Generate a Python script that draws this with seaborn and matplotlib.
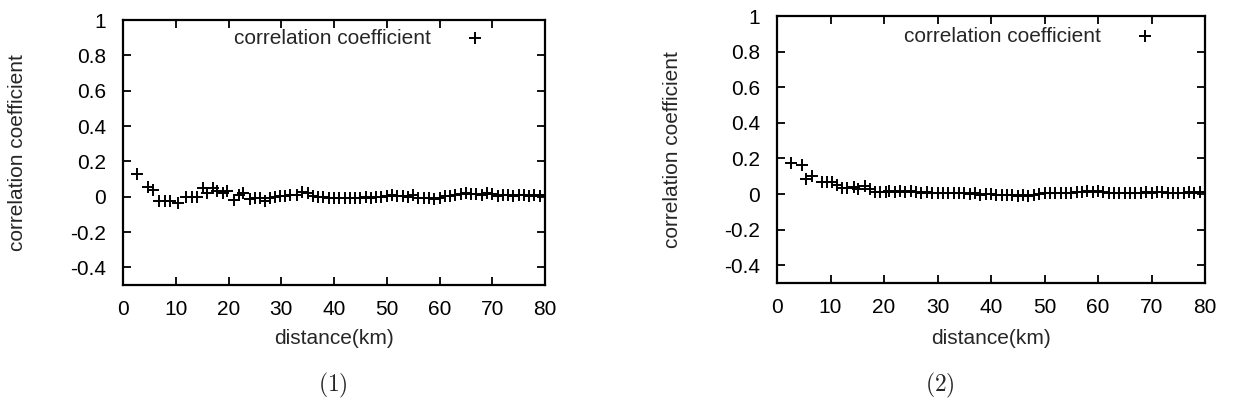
import matplotlib
matplotlib.use("Agg")
import matplotlib.pyplot as plt
import seaborn as sns
import pandas as pd

# ---- data ----
left_x = [2.7, 4.8, 5.6, 6.9, 8.0, 9.0, 10.5, 11.9, 13.0, 14.0, 15.1, 16.0, 17.1, 17.9,
          18.9, 19.7, 21.0, 21.9, 22.8, 24.1, 25.0, 26.0, 26.9, 27.9, 28.8, 29.8, 30.8,
          31.7, 33.0, 34.0, 35.0, 36, 37, 38, 39, 40, 41, 42, 43, 44, 45, 46, 47, 48, 49,
          50, 51, 52, 53, 54, 55, 56, 57, 58, 59, 60, 61, 62, 63, 64, 65, 66, 67, 68, 69,
          70, 71, 72, 73, 74, 75, 76, 77, 78, 79, 80]
left_y = [0.13, 0.055, 0.04, -0.027, -0.027, -0.027, -0.036, 0.0, 0.0, 0.0, 0.05, 0.02,
          0.05, 0.03, 0.02, 0.03, -0.017, 0.01, 0.02, -0.013, -0.005, -0.01, -0.027, -0.01,
          0.0, 0.005, 0.005, 0.01, 0.01, 0.025, 0.02, 0.005, 0.0, 0.0, -0.01, -0.005,
          -0.005, -0.005, -0.008, -0.005, -0.005, -0.003, -0.005, -0.003, 0.0, 0.003,
          0.008, 0.005, 0.003, 0.0, 0.01, -0.01, -0.01, -0.008, -0.012, -0.01, 0.005,
          0.005, 0.01, 0.015, 0.02, 0.015, 0.015, 0.01, 0.02, 0.015, 0.005, 0.01, 0.01,
          0.005, 0.008, 0.008, 0.005, 0.008, 0.005, 0.008]

right_x = [2.6, 4.6, 5.5, 6.5, 8.4, 9.3, 10.2, 11.2, 12.1, 13.1, 14.3, 15.2, 16.4, 17.3,
           18.3, 19.3, 20.3, 21, 22, 23, 24, 25, 26, 27, 28, 29, 30, 31, 32, 33, 34, 35,
           36, 37, 38, 39, 40, 41, 42, 43, 44, 45, 46, 47, 48, 49, 50, 51, 52, 53, 54, 55,
           56, 57, 58, 59, 60, 61, 62, 63, 64, 65, 66, 67, 68, 69, 70, 71, 72, 73, 74, 75,
           76, 77, 78, 79, 80]
right_y = [0.175, 0.165, 0.083, 0.10, 0.07, 0.07, 0.068, 0.05, 0.032, 0.032, 0.04, 0.026,
           0.045, 0.026, 0.013, 0.013, 0.012, 0.015, 0.012, 0.015, 0.012, 0.015, 0.01,
           0.008, 0.01, 0.005, 0.008, 0.005, 0.005, 0.003, 0.003, 0.003, 0.0, 0.003,
           -0.003, 0.0, 0.002, -0.008, -0.005, -0.008, -0.005, -0.01, -0.005, -0.01,
           -0.003, 0.0, 0.003, 0.003, 0.008, 0.005, 0.008, 0.005, 0.01, 0.012, 0.015,
           0.012, 0.015, 0.01, 0.008, 0.005, 0.005, 0.008, 0.005, 0.003, 0.005, 0.01,
           0.008, 0.01, 0.012, 0.008, 0.003, 0.005, 0.008, 0.01, 0.008, 0.012, 0.01]

x_ticks = [0, 10, 20, 30, 40, 50, 60, 70, 80]
y_ticks = [-0.4, -0.2, 0, 0.2, 0.4, 0.6, 0.8, 1]
y_tick_labels = ["-0.4", "-0.2", "0", "0.2", "0.4", "0.6", "0.8", "1"]
series_label = "correlation coefficient"
x_label = "distance(km)"
y_label = "correlation coefficient"
captions = ["(1)", "(2)"]

# ---- style ----
sns.set_style("ticks")
plt.rcParams["font.family"] = ["Liberation Sans", "DejaVu Sans"]
plt.rcParams["mathtext.fontset"] = "cm"

FS = 15
fig = plt.figure(figsize=(12.33, 4.12), dpi=100)
W, H = 1233, 412
# axes boxes in pixels: left, right, top, bottom
boxes = [(123, 545, 20, 285), (777, 1205, 16, 283)]
legend_pos = [(0.859, 0.932), (0.884, 0.925)]
caption_x = [333, 940]

for i, (xs, ys) in enumerate([(left_x, left_y), (right_x, right_y)]):
    l, r, t, b = boxes[i]
    ax = fig.add_axes([l / W, (H - b) / H, (r - l) / W, (b - t) / H])
    df = pd.DataFrame({"x": xs, "y": ys})
    sns.scatterplot(data=df, x="x", y="y", marker="+", color="black", s=85,
                    linewidth=1.4, ax=ax, label=series_label, legend=False)
    ax.set_xlim(0, 80)
    ax.set_ylim(-0.5, 1)
    ax.set_xticks(x_ticks)
    ax.set_xticklabels([str(v) for v in x_ticks])
    ax.set_yticks(y_ticks)
    ax.set_yticklabels(y_tick_labels)
    ax.tick_params(direction="in", length=6, width=1.3, top=True, right=True,
                   labelsize=FS, colors="black")
    ax.tick_params(axis="x", pad=11)
    ax.tick_params(axis="y", pad=12)
    for sp in ax.spines.values():
        sp.set_linewidth(1.6)
        sp.set_color("black")
    ax.set_xlabel(x_label, fontsize=FS)
    ax.set_ylabel(y_label, fontsize=FS)
    ax.xaxis.label.set_va("center")
    ax.yaxis.label.set_va("center")
    ax.xaxis.set_label_coords(0.5, (b - 339) / (b - t))
    ylab_x = 18 if i == 0 else 672
    ax.yaxis.set_label_coords((ylab_x - l) / (r - l), 0.5)
    ax.legend(loc="center right", bbox_to_anchor=legend_pos[i], frameon=False,
              markerfirst=False, handlelength=1.0, handletextpad=1.6,
              borderaxespad=0, borderpad=0, fontsize=FS)
    fig.text(caption_x[i] / W, 1 - 385 / H, r"$\mathrm{" + captions[i] + "}$",
             ha="center", va="center", fontsize=17)

fig.savefig("out.png", dpi=100, facecolor="white")
